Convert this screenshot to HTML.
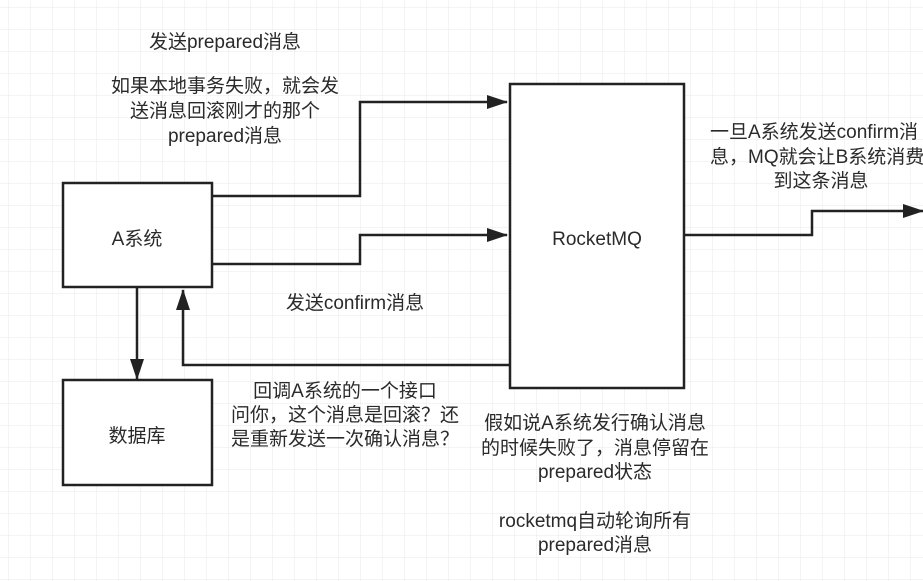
<!DOCTYPE html>
<html><head><meta charset="utf-8"><style>
html,body{margin:0;padding:0;background:#fff;}
svg{display:block;}
text{font-family:"Liberation Sans","Noto Sans CJK SC",sans-serif;font-size:19px;fill:#2a2a2a;}
</style></head><body>
<svg width="923" height="581" viewBox="0 0 923 581" xmlns="http://www.w3.org/2000/svg">
<defs>
<pattern id="g" width="22" height="22" patternUnits="userSpaceOnUse" x="9" y="8">
<path d="M22 0V22M0 22H22" fill="none" stroke="#e8e8e8" stroke-width="1"/>
</pattern>
<marker id="ah" markerWidth="21" markerHeight="14" refX="20" refY="7" orient="auto" markerUnits="userSpaceOnUse">
<path d="M0,0 L21,7 L0,14 Z" fill="#222"/>
</marker>
</defs>
<rect width="923" height="581" fill="#fff"/>
<rect width="923" height="581" fill="url(#g)"/>
<g fill="#fff" stroke="#222" stroke-width="2.5">
<rect x="63" y="183" width="149" height="104"/>
<rect x="63" y="380" width="149" height="105"/>
<rect x="510" y="84" width="174" height="304"/>
</g>
<g fill="none" stroke="#222" stroke-width="2.5">
<polyline points="212,196 360,196 360,102 507,102" marker-end="url(#ah)"/>
<polyline points="212,264 360,264 360,235 507,235" marker-end="url(#ah)"/>
<polyline points="510,365 183,365 183,290" marker-end="url(#ah)"/>
<polyline points="137,287 137,379" marker-end="url(#ah)"/>
<polyline points="684,235 812,235 812,211 923,211" marker-end="url(#ah)"/>
</g>
<g text-anchor="middle">
<text x="137" y="245">A系统</text>
<text x="137" y="442">数据库</text>
<text x="597" y="245">RocketMQ</text>
<text x="225" y="48">发送prepared消息</text>
<text x="225" y="92">如果本地事务失败，就会发</text>
<text x="225" y="117">送消息回滚刚才的那个</text>
<text x="225" y="142">prepared消息</text>
<text x="355" y="309">发送confirm消息</text>
<text x="345" y="397">回调A系统的一个接口</text>
<text x="345" y="421">问你，这个消息是回滚？还</text>
<text x="345" y="445">是重新发送一次确认消息？</text>
<text x="595" y="429">假如说A系统发行确认消息</text>
<text x="595" y="454">的时候失败了，消息停留在</text>
<text x="595" y="478">prepared状态</text>
<text x="595" y="527">rocketmq自动轮询所有</text>
<text x="595" y="551">prepared消息</text>
</g>
<text x="710" y="138">一旦A系统发送confirm消</text>
<text x="710" y="163">息，MQ就会让B系统消费</text>
<text x="821" y="187" text-anchor="middle">到这条消息</text>
</svg>
</body></html>
